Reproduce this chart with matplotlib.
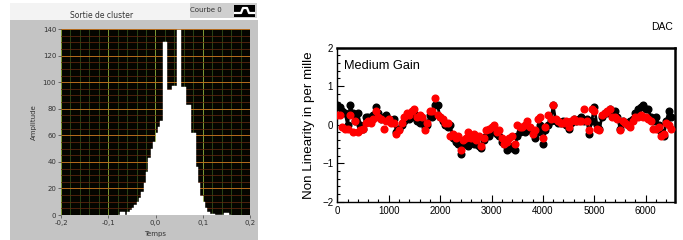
import numpy as np
import matplotlib
matplotlib.use("Agg")
import matplotlib.pyplot as plt
from matplotlib.patches import Rectangle
from matplotlib.ticker import MultipleLocator

# ---------------- data: left histogram ----------------
hist_bin_start = -0.08
hist_bin_width = 0.005
hist_counts = [0, 2, 2, 0, 2, 4, 5, 7.5, 10, 12.5, 17, 24, 32, 43, 50, 55,
               62, 66, 71, 130, 130, 94, 94, 97, 97, 139, 139, 96, 96, 83, 83,
               62, 62, 36, 24, 14, 10, 5, 2.5, 1, 0.5, 0, 0, 0, 0, 1.5, 1.5, 0]
hist_xticks = [-0.2, -0.1, 0.0, 0.1, 0.2]
hist_xticklabels = ["-0,2", "-0,1", "0,0", "0,1", "0,2"]
hist_yticks = [0, 20, 40, 60, 80, 100, 120, 140]

# ---------------- data: right non-linearity ----------------
dac = list(range(0, 6501, 50))
nl_black = [0.5, 0.45, 0.35, 0.3, 0.0, 0.5, 0.3, 0.1, 0.3, 0.0,
            -0.1, 0.2, 0.2, 0.15, 0.25, 0.45, 0.3, 0.15, 0.2, 0.25,
            0.15, 0.1, 0.15, -0.2, -0.1, 0.0, 0.1, 0.2, 0.15, 0.2,
            0.3, 0.1, 0.05, 0.15, -0.05, 0.0, 0.25, 0.2, 0.5, 0.5,
            0.2, 0.1, 0.0, -0.05, 0.0, -0.35, -0.45, -0.5, -0.75, -0.5,
            -0.45, -0.55, -0.45, -0.5, -0.5, -0.55, -0.6, -0.4, -0.3, -0.3,
            -0.2, -0.15, -0.25, -0.3, -0.45, -0.5, -0.65, -0.55, -0.6, -0.65,
            -0.3, -0.2, -0.15, -0.2, -0.1, -0.15, -0.2, -0.35, -0.2, 0.0,
            -0.5, -0.15, 0.0, 0.1, 0.5, 0.1, 0.05, 0.05, 0.1, 0.0,
            -0.1, 0.05, 0.15, 0.1, 0.15, 0.2, 0.1, 0.15, -0.25, 0.1,
            0.45, 0.0, -0.1, 0.2, 0.3, 0.3, 0.4, 0.3, 0.35, 0.2,
            -0.1, 0.1, 0.05, 0.0, 0.1, 0.15, 0.3, 0.4, 0.45, 0.5,
            0.4, 0.4, 0.2, 0.1, 0.2, 0.0, -0.2, -0.3, 0.1, 0.35, 0.2]
nl_red = [0.25, 0.25, -0.05, -0.1, -0.1, 0.25, -0.2, 0.1, -0.2, -0.15,
          -0.1, 0.05, 0.1, 0.05, 0.15, 0.35, 0.2, 0.15, -0.1, 0.1,
          0.15, 0.05, 0.05, -0.25, -0.15, 0.05, 0.2, 0.3, 0.25, 0.35,
          0.4, 0.2, 0.25, 0.2, -0.15, 0.05, 0.35, 0.35, 0.7, 0.25,
          0.2, 0.15, 0.05, 0.05, -0.3, -0.25, -0.35, -0.3, -0.65, -0.4,
          -0.35, -0.2, -0.35, -0.25, -0.4, -0.3, -0.55, -0.35, -0.15, -0.1,
          -0.05, 0.0, -0.2, -0.15, -0.35, -0.5, -0.45, -0.35, -0.3, -0.5,
          0.0, -0.05, -0.05, 0.0, 0.1, -0.05, -0.25, -0.15, 0.15, 0.2,
          -0.35, -0.05, 0.25, 0.15, 0.5, 0.15, 0.1, 0.05, 0.05, 0.1,
          -0.05, 0.1, 0.15, 0.1, 0.1, 0.1, 0.4, 0.1, -0.15, 0.4,
          0.35, -0.1, -0.15, 0.25, 0.3, 0.35, 0.4, 0.2, 0.2, 0.15,
          -0.15, 0.1, 0.05, 0.0, -0.05, 0.1, 0.2, 0.2, 0.25, 0.2,
          0.2, 0.15, 0.1, -0.1, -0.1, -0.05, -0.3, -0.25, 0.05, 0.0, -0.1]
nl_xticks = [0, 1000, 2000, 3000, 4000, 5000, 6000]
nl_yticks = [-2, -1, 0, 1, 2]

W, H = 683, 240
fig = plt.figure(figsize=(W / 100, H / 100), dpi=100)
fig.patch.set_facecolor("white")

def fx(px):
    return px / W

def fy(py):
    return 1 - py / H

# ---------------- left panel (LabVIEW style) ----------------
def add_rect(x0, y0, x1, y1, color, z):
    r = Rectangle((fx(x0), fy(y1)), fx(x1) - fx(x0), fy(y0) - fy(y1),
                  transform=fig.transFigure, facecolor=color,
                  edgecolor="none", zorder=z)
    fig.patches.append(r)

add_rect(10, 20, 258, 240, "#c4c4c4", -10)
add_rect(10, 3, 190, 20, "#f3f3f3", -10)
add_rect(190, 3, 257, 18, "#cfcfcf", -10)
add_rect(234, 5, 255, 17, "black", -9)
fig.lines.append(plt.Line2D([fx(235), fx(241), fx(243), fx(247), fx(249), fx(254)],
                            [fy(13), fy(13), fy(8), fy(8), fy(13), fy(13)],
                            transform=fig.transFigure, color="white", lw=1.6, zorder=-8))
fig.text(fx(222), fy(10.5), "Courbe 0", fontsize=5, color="#333333",
         ha="right", va="center", family="DejaVu Sans")
fig.text(fx(102), fy(15.5), "Sortie de cluster", fontsize=5.5, color="#333333",
         ha="center", va="center", family="DejaVu Sans")

axL = fig.add_axes([fx(61), fy(215), fx(250) - fx(61), fy(29) - fy(215)])
axL.set_zorder(1)
axL.set_facecolor("#050500")
axL.set_xlim(-0.2, 0.2)
axL.set_ylim(0, 140)
# grid lines drawn explicitly beneath the histogram
for v in np.arange(-0.2, 0.2001, 0.02):
    major = abs(round(v / 0.1) * 0.1 - v) < 1e-9
    axL.axvline(v, color="#7f9a35" if major else "#34521b",
                lw=0.7 if major else 0.55, zorder=1)
for h in range(0, 141, 5):
    major = h % 20 == 0
    axL.axhline(h, color="#b86c1c" if major else "#62280f",
                lw=0.7 if major else 0.55, zorder=1)
edges = [hist_bin_start + i * hist_bin_width for i in range(len(hist_counts) + 1)]
axL.bar(edges[:-1], hist_counts, width=hist_bin_width, align="edge",
        color="white", edgecolor="white", lw=0.3, zorder=6)
axL.set_xticks(hist_xticks)
axL.set_xticklabels(hist_xticklabels)
axL.set_yticks(hist_yticks)
axL.tick_params(which="major", length=2, width=0.5, color="#444444",
                labelsize=5, labelcolor="#333333", pad=1.5)
for s in axL.spines.values():
    s.set_visible(False)
axL.set_xlabel("Temps", fontsize=5, color="#333333", labelpad=4)
axL.set_ylabel("Amplitude", fontsize=5, color="#333333", labelpad=4)

# ---------------- right panel (ROOT style) ----------------
rfont = "Liberation Sans"
axR = fig.add_axes([fx(337.3), fy(201.7), fx(675) - fx(337.3), fy(47.7) - fy(201.7)])
axR.plot(dac, nl_black, color="black", lw=2.0, marker="o", ms=4.8,
         mec="black", mfc="black", zorder=3)
axR.plot(dac, nl_red, color="red", lw=0, marker="o", ms=4.8,
         mec="red", mfc="red", zorder=4)
axR.set_xlim(0, 6570)
axR.set_ylim(-2, 2)
axR.set_xticks(nl_xticks)
axR.set_yticks(nl_yticks)
axR.set_yticklabels(["\u22122", "\u22121", "0", "1", "2"])
axR.xaxis.set_minor_locator(MultipleLocator(200))
axR.yaxis.set_minor_locator(MultipleLocator(0.2))
axR.tick_params(which="major", direction="in", length=5, width=0.8,
                labelsize=7, pad=3)
axR.tick_params(which="minor", direction="in", length=2.5, width=0.8)
for lab in axR.get_xticklabels() + axR.get_yticklabels():
    lab.set_family(rfont)
for name, s in axR.spines.items():
    s.set_linewidth(1.0 if name in ("left", "bottom") else 1.8)
axR.set_ylabel("Non Linearity in per mille", fontsize=9.6, family=rfont, labelpad=5)
axR.text(0.02, 0.88, "Medium Gain", transform=axR.transAxes, fontsize=9.2,
         family=rfont, ha="left", va="center")
fig.text(fx(673), fy(27), "DAC", fontsize=7.5, family=rfont, ha="right", va="center")

fig.savefig("out.png", dpi=100)
